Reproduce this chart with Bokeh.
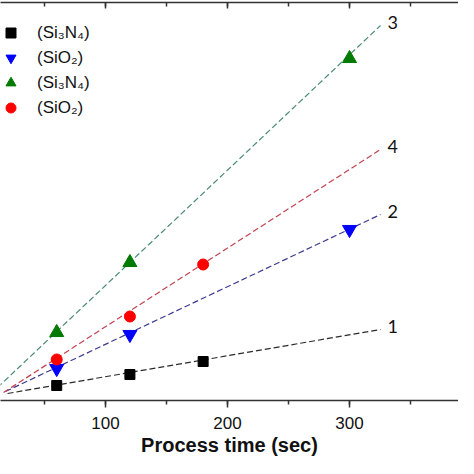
from bokeh.plotting import figure
from bokeh.models import (LinearAxis, SingleIntervalTicker, Legend, LegendItem,
                          Range1d, ColumnDataSource)
from bokeh.core.properties import value
from bokeh.embed import file_html
from bokeh.resources import INLINE

# ---- data (y in arbitrary thickness units) ----
t_1 = [60, 120, 180]
y_1 = [15, 26, 39]
t_2 = [60, 120, 300]
y_2 = [32, 66, 171]
t_3 = [60, 120, 300]
y_3 = [68, 138, 342]
t_4 = [60, 120, 180]
y_4 = [41, 84, 136]

# linear fit lines (start / end) per series
fit_names = ["1", "2", "3", "4"]
fit_x0 = [19.7, 18.0, 11.5, 16.4]
fit_y0 = [7, 9, 13, 8]
fit_x1 = [325.4, 325.4, 325.4, 325.4]
fit_y1 = [71, 186, 375, 251]

legend_labels = ["(Si\u2083N\u2084)", "(SiO\u2082)", "(Si\u2083N\u2084)", "(SiO\u2082)"]
x_ticks_interval = 100

FONT = "Liberation Sans"

p = figure(width=458, height=458, output_backend="svg", toolbar_location=None,
           x_range=Range1d(13.93, 389.3), y_range=Range1d(0, 398),
           x_axis_location=None, y_axis_location=None,
           min_border_left=0, min_border_right=0, min_border_top=2,
           min_border_bottom=0)
p.outline_line_color = None
p.xgrid.visible = False
p.ygrid.visible = False
p.background_fill_color = "white"

# bottom axis
bx = LinearAxis(ticker=SingleIntervalTicker(interval=x_ticks_interval, num_minor_ticks=2),
                axis_label="Process time (sec)")
bx.axis_line_width = 1.5
bx.axis_line_color = "#333333"
bx.major_tick_line_color = "#333333"
bx.minor_tick_line_color = "#333333"
bx.major_tick_line_width = 1.5
bx.minor_tick_line_width = 1.5
bx.major_tick_in = 0
bx.major_tick_out = 7
bx.minor_tick_in = 0
bx.minor_tick_out = 4
bx.major_label_standoff = 9
bx.major_label_text_font = FONT
bx.major_label_text_font_size = "17px"
bx.major_label_text_color = "#111111"
bx.axis_label_text_font = FONT
bx.axis_label_text_font_style = "bold"
bx.axis_label_text_font_size = "20px"
bx.axis_label_text_color = "#111111"
bx.axis_label_standoff = 2
p.add_layout(bx, "below")

# top axis (ticks inward, no labels)
tx = LinearAxis(ticker=SingleIntervalTicker(interval=x_ticks_interval, num_minor_ticks=2))
tx.axis_line_width = 1.5
tx.axis_line_color = "#333333"
tx.major_tick_line_color = "#333333"
tx.minor_tick_line_color = "#333333"
tx.major_tick_line_width = 1.5
tx.minor_tick_line_width = 1.5
tx.major_tick_in = 6
tx.major_tick_out = 0
tx.minor_tick_in = 4
tx.minor_tick_out = 0
tx.major_label_text_font_size = "0px"
tx.major_label_text_color = None
tx.major_label_text_alpha = 0
tx.major_label_standoff = 0
p.add_layout(tx, "above")

# fit lines
line_colors = ["#2a2a2a", "#3b3b90", "#4a8c72", "#c2424e"]
for i in range(4):
    p.line([fit_x0[i], fit_x1[i]], [fit_y0[i], fit_y1[i]], line_color=line_colors[i],
           line_width=1.2, line_dash="6 3")

# markers
r1 = p.scatter(t_1, y_1, marker="square", size=10, color="black")
r2 = p.scatter(t_2, y_2, marker="inverted_triangle", size=14, color="#0000ff")
r3 = p.scatter(t_3, y_3, marker="triangle", size=14, color="#007a00")
r4 = p.scatter(t_4, y_4, marker="circle", size=11, color="#ff0000")

# line numbers
src = ColumnDataSource(dict(x=fit_x1, y=fit_y1, t=fit_names))
p.text(x="x", y="y", text="t", source=src, x_offset=7, y_offset=-3,
       text_font=value("Lato"), text_font_size="18px", text_baseline="middle",
       text_align="left", text_color="#111111")

legend = Legend(items=[LegendItem(label=legend_labels[0], renderers=[r1]),
                       LegendItem(label=legend_labels[1], renderers=[r2]),
                       LegendItem(label=legend_labels[2], renderers=[r3]),
                       LegendItem(label=legend_labels[3], renderers=[r4])],
                location=(-2, 280), border_line_color=None, background_fill_alpha=0,
                padding=2, margin=0, spacing=0, glyph_width=25, glyph_height=25,
                label_height=25, label_standoff=14,
                label_text_font=FONT, label_text_font_size="17px",
                label_text_color="#111111")
p.add_layout(legend, "center")

open("out.html", "w").write(file_html(p, INLINE))
